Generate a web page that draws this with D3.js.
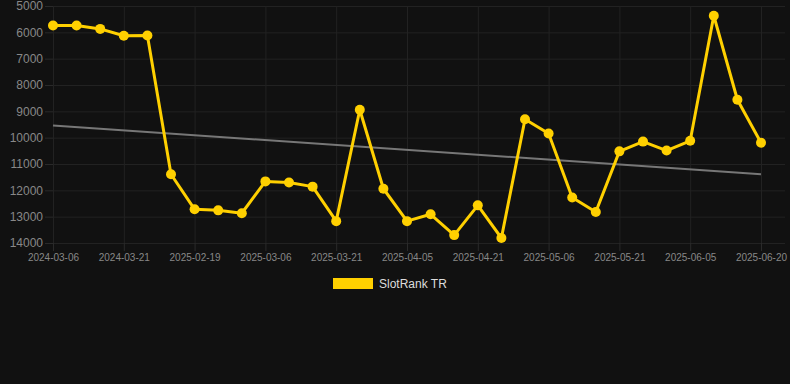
<!DOCTYPE html>
<html>
<head>
<meta charset="UTF-8">
<style>
  body { margin: 0; background: #111111; }
  svg { display: block; }
  svg text { font-family: "Liberation Sans", Arial, Helvetica, sans-serif; }
  .axis path.domain { display: none; }
  .axis line { stroke: #2a2a2a; }
  .axis text { fill: #888; }
  .grid line { stroke: #222; stroke-width: 1; }
</style>
<script src="https://d3js.org/d3.v7.min.js"></script>
</head>
<body>
<svg></svg>
<script>
// categories (x)
var dates = [
  '2024-03-06', '2024-03-11', '2024-03-16', '2024-03-21', '2024-03-26',
  '2025-02-14', '2025-02-19', '2025-02-24', '2025-03-01', '2025-03-06',
  '2025-03-11', '2025-03-16', '2025-03-21', '2025-03-26', '2025-03-31',
  '2025-04-05', '2025-04-11', '2025-04-16', '2025-04-21', '2025-04-26',
  '2025-05-01', '2025-05-06', '2025-05-11', '2025-05-16', '2025-05-21',
  '2025-05-26', '2025-05-31', '2025-06-05', '2025-06-10', '2025-06-15',
  '2025-06-20'
];

// SlotRank TR (rank, lower is better)
var rankTR = [
  5740, 5740, 5870, 6130, 6120,
  11390, 12720, 12760, 12870, 11660,
  11700, 11860, 13170, 8940, 11940,
  13170, 12910, 13700, 12570, 13810,
  9300, 9840, 12270, 12820, 10520,
  10150, 10490, 10120, 5370, 8560,
  10190
];

var yTicks = [5000, 6000, 7000, 8000, 9000, 10000, 11000, 12000, 13000, 14000];
var seriesName = 'SlotRank TR';

var W = 790, H = 384;
var plotL = 53, plotR = 761, plotT = 6, plotB = 243, gridR = 785;

var svg = d3.select('svg').attr('width', W).attr('height', H);
svg.append('rect').attr('width', W).attr('height', H).attr('fill', '#111111');

var x = d3.scalePoint().domain(dates).range([plotL, plotR]);
var y = d3.scaleLinear().domain([5000, 14000]).range([plotT, plotB]);

var shownDates = dates.filter(function(d, i) { return i % 3 === 0; });

// grid
var grid = svg.append('g').attr('class', 'grid');
grid.selectAll('.h').data(yTicks).enter().append('line')
  .attr('x1', plotL).attr('x2', gridR)
  .attr('y1', function(d) { return y(d) + 0.5; })
  .attr('y2', function(d) { return y(d) + 0.5; });
grid.selectAll('.v').data(shownDates).enter().append('line')
  .attr('x1', function(d) { return x(d) + 0.5; })
  .attr('x2', function(d) { return x(d) + 0.5; })
  .attr('y1', plotT).attr('y2', plotB);

// axes
svg.append('g').attr('class', 'axis')
  .attr('transform', 'translate(' + plotL + ',0)')
  .call(d3.axisLeft(y).tickValues(yTicks).tickSize(8).tickPadding(2).tickFormat(d3.format('d')))
  .selectAll('text').style('font-size', '12px');

svg.append('g').attr('class', 'axis')
  .attr('transform', 'translate(0,' + plotB + ')')
  .call(d3.axisBottom(x).tickValues(shownDates).tickSize(8).tickPadding(3))
  .selectAll('text').style('font-size', '10px');

// trend line (least squares)
var n = rankTR.length, sx = 0, sy = 0, sxy = 0, sxx = 0;
rankTR.forEach(function(v, i) { sx += i; sy += v; sxy += i * v; sxx += i * i; });
var slope = (n * sxy - sx * sy) / (n * sxx - sx * sx);
var icpt = (sy - slope * sx) / n;

svg.append('line')
  .attr('x1', x(dates[0])).attr('y1', y(icpt))
  .attr('x2', x(dates[n - 1])).attr('y2', y(icpt + slope * (n - 1)))
  .attr('stroke', '#777').attr('stroke-width', 2);

// series
var line = d3.line()
  .x(function(d, i) { return x(dates[i]); })
  .y(function(d) { return y(d); });

svg.append('path').datum(rankTR)
  .attr('d', line)
  .attr('fill', 'none')
  .attr('stroke', '#FFD000')
  .attr('stroke-width', 3)
  .attr('stroke-linejoin', 'round');

svg.selectAll('.pt').data(rankTR).enter().append('circle')
  .attr('cx', function(d, i) { return x(dates[i]); })
  .attr('cy', function(d) { return y(d); })
  .attr('r', 5)
  .attr('fill', '#FFD000');

// legend
var lg = svg.append('g');
lg.append('rect').attr('x', 333).attr('y', 278).attr('width', 40).attr('height', 11).attr('fill', '#FFD000');
lg.append('text').attr('x', 379).attr('y', 288)
  .style('font-size', '12px').attr('fill', '#ddd').text(seriesName);
</script>
</body>
</html>
